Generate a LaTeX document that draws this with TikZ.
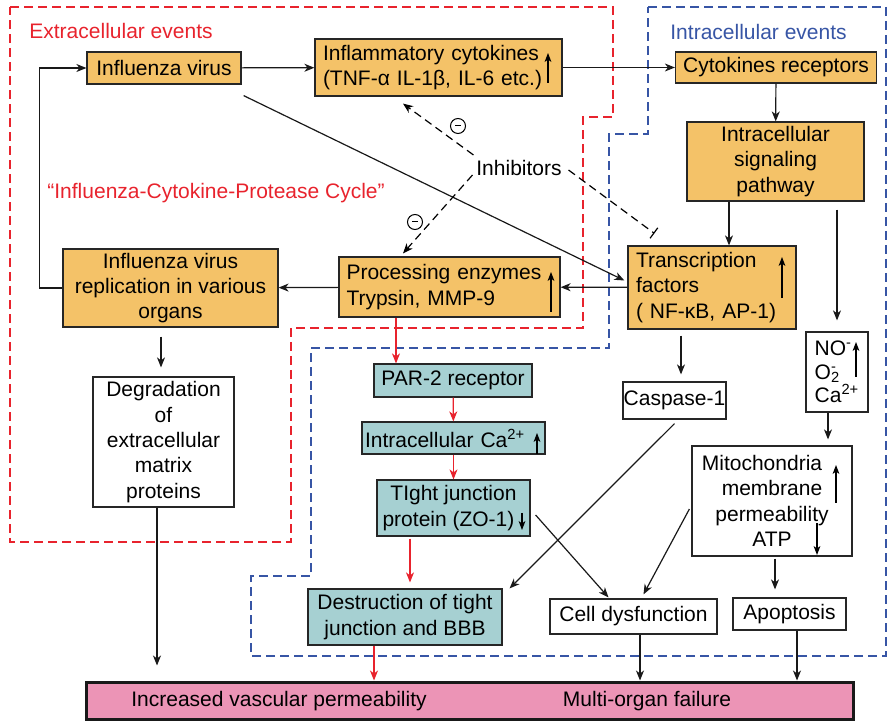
\documentclass[tikz,border=0pt]{standalone}
\usepackage{fontspec}
\setmainfont{Liberation Sans}
\usepackage{tikz}
\usetikzlibrary{arrows.meta,positioning,calc}
\definecolor{flu}{RGB}{244,194,104}
\definecolor{tjcol}{RGB}{166,208,210}
\definecolor{failcol}{RGB}{236,148,182}
\definecolor{exred}{RGB}{232,35,45}
\definecolor{inblue}{RGB}{55,85,165}
\newcommand{\boxfont}{\fontsize{10.5}{12.7}\selectfont}

\tikzset{
  cbox/.style={draw=black!85,line width=0.6pt,inner sep=0pt,font=\boxfont,align=center},
  flubox/.style={cbox,fill=flu},
  tjbox/.style={cbox,fill=tjcol},
  plainbox/.style={cbox,fill=white},
  link/.style={->,line width=0.6pt,black!90},
  redlink/.style={->,line width=0.6pt,exred},
  inhib/.style={line width=0.6pt,dash pattern=on 4pt off 2.5pt},
  level/.style={line width=0.55pt,-{Stealth[length=4.5pt,width=3.4pt,inset=1.3pt]}},
  region/.style={line width=0.6pt,dash pattern=on 4.5pt off 2.5pt},
  minus/.style={circle,draw,line width=0.5pt,inner sep=0pt,minimum size=7.5pt}
}

\begin{document}
\begin{tikzpicture}[x=0.5pt,y=-0.5pt,>={Stealth[length=5pt,width=4pt,inset=1.5pt]}]
\useasboundingbox (0,0) rectangle (889,721);

% extracellular / intracellular areas
\draw[region,exred] (10,7) -- (613,7) -- (613,117) -- (583,117) -- (583,328) -- (291,328) -- (291,542) -- (10,542) -- cycle;
\draw[region,inblue] (648,7) -- (886,7) -- (886,656) -- (251,656) -- (251,576) -- (311,576) -- (311,348) -- (609,348) -- (609,134) -- (648,134) -- cycle;
\node[exred,font=\boxfont,anchor=west,inner sep=0pt] (extitle) at (29,31) {Extracellular events};
\node[inblue,font=\boxfont,anchor=west,inner sep=0pt] (intitle) at (670,32) {Intracellular events};
\node[exred,font=\boxfont,anchor=west,inner sep=0pt] (cycle) at (47,193) {“Influenza-Cytokine-Protease Cycle”};

% cycle
\node[flubox,minimum width=77pt,minimum height=16pt] (virus) at (164,68) {Influenza virus};
\node[flubox,text width=115.5pt,inner xsep=4pt,minimum height=28.5pt,align=left] (cyt) at (438.5,67.5) {Inflammatory cytokines\\(TNF-α IL-1β, IL-6 etc.)};
\node[flubox,minimum width=100.5pt,minimum height=15.5pt] (cytrec) at (776,67.5) {Cytokines receptors};
\node[flubox,minimum width=88.5pt,minimum height=39.5pt] (sig) at (775.5,161.5) {Intracellular\\signaling\\pathway};
\node[flubox,text width=76pt,inner xsep=4pt,minimum height=41.5pt,align=left] (tf) at (712,287.5) {Transcription\\factors\\( NF-κB, AP-1)};
\node[flubox,text width=103pt,inner xsep=3.75pt,minimum height=30pt,align=left] (proc) at (449.5,287) {Processing enzymes\\Trypsin, MMP-9};
\node[flubox,minimum width=107.5pt,minimum height=39pt] (rep) at (170.5,288) {Influenza virus\\replication in various\\organs};
\node[plainbox,minimum width=70.5pt,minimum height=65pt] (deg) at (163.5,442) {Degradation\\of\\extracellular\\matrix\\proteins};

% barrier branch
\node[tjbox,minimum width=79pt,minimum height=16.5pt] (par) at (453,380.5) {PAR-2 receptor};
\node[tjbox,text width=88.5pt,inner xsep=1.5pt,minimum height=16pt,align=left] (ca) at (453.5,438) {Intracellular Ca\textsuperscript{2+}};
\node[tjbox,minimum width=76.5pt,minimum height=28pt] (tjp) at (453.5,508) {TIght junction\\protein (ZO-1)\hspace*{5pt}};
\node[tjbox,minimum width=97pt,minimum height=28pt] (des) at (405,617) {Destruction of tight\\junction and BBB};

% cell branch
\node[plainbox,minimum width=51.5pt,minimum height=18.5pt] (casp) at (674.5,400.5) {Caspase-1};
\node[plainbox,minimum width=31pt,minimum height=40pt,align=left,font=\fontsize{10.5}{11.8}\selectfont] (no) at (837,372) {NO\textsuperscript{-}\\O\rlap{\textsuperscript{-}}\textsubscript{2}\\Ca\textsuperscript{2+}};
\node[plainbox,minimum width=80pt,minimum height=55pt] (mito) at (772,501) {Mitochondria\hspace*{10pt}\\membrane\hspace*{10pt}\\permeability\hspace*{10pt}\\ATP};
\node[plainbox,minimum width=83.5pt,minimum height=17.5pt] (cell) at (633.5,616.5) {Cell dysfunction};
\node[plainbox,minimum width=56.5pt,minimum height=16pt] (apop) at (789.5,614) {Apoptosis};

% outcome
\node[draw=black!90,line width=1.5pt,fill=failcol,minimum width=383.5pt,minimum height=18.5pt,inner sep=0pt] (fail) at (469.5,700.5) {};
\node[font=\boxfont] (ivp) at (279,701) {Increased vascular permeability};
\node[font=\boxfont] (mof) at (647,701) {Multi-organ failure};

\node[font=\boxfont,inner sep=1pt] (inh) at (519,168) {Inhibitors};
\node[minus] (m1) at (458,126) {\rule{2.8pt}{0.5pt}};
\node[minus] (m2) at (415,222) {\rule{2.8pt}{0.5pt}};

% up / down marks
\draw[level] ([shift={(109.5,15.5)}]cyt.center) -- ++(0,-30);
\draw[level] ([shift={(101.5,25)}]proc.center) -- ++(0,-40);
\draw[level] ([shift={(70,10.5)}]tf.center) -- ++(0,-41);
\draw[level] ([shift={(83.5,16)}]ca.center) -- ++(0,-21);
\draw[level] ([shift={(68.5,5)}]tjp.center) -- ++(0,17);
\draw[level] ([shift={(19,5)}]no.center) -- ++(0,-35);
\draw[level] ([shift={(64,2)}]mito.center) -- ++(0,-38);
\draw[level] ([shift={(45,22)}]mito.center) -- ++(0,32);

% connectors
\draw[link] (virus) -- (cyt);
\draw[link] (cyt) -- (cytrec);
\draw[link] (cytrec) -- (sig);
\draw[link] ([xshift=-23.25pt]sig.south) -- ([xshift=-23.25pt]sig.south |- tf.north);
\draw[link,shorten <=4pt,shorten >=5.5pt] (no.north |- sig.south) -- (no.north);
\draw[link] ([shift={(2,11)}]virus.south east) -- ([shift={(-3,-7)}]tf.west);
\draw[link] (tf) -- (proc);
\draw[link] (proc) -- (rep);
\draw[link] (rep.west) -- ++(-23,0) |- (virus.west);
\draw[link,shorten <=4.5pt,shorten >=4.5pt] ([xshift=-4.75pt]rep.south) -- ([xshift=-4.75pt]rep.south |- deg.north);
\draw[link,shorten >=7.5pt] ([xshift=-3.25pt]deg.south) -- ([xshift=-3.25pt]deg.south |- fail.north);
\draw[redlink] ([xshift=-26.75pt]proc.south) -- ([xshift=-26.75pt]proc.south |- par.north);
\draw[redlink] (par) -- (ca);
\draw[redlink] (ca) -- (tjp);
\draw[redlink,shorten <=1pt,shorten >=3pt] ([xshift=-21.75pt]tjp.south) -- ([xshift=-21.75pt]tjp.south |- des.north);
\draw[redlink] ([xshift=-15.5pt]des.south) -- ([xshift=-15.5pt]des.south |- fail.north);
\draw[link] ([shift={(5,7)}]tjp.east) -- ([shift={(-25,-1)}]cell.north);
\draw[link] ([shift={(0,4)}]casp.south) -- ([shift={(7,0)}]des.north east);
\draw[link] ([shift={(-2,8)}]mito.west) -- ([shift={(10,-4)}]cell.north);
\draw[link,shorten >=3pt] ([xshift=-4.5pt]no.south) -- ([xshift=-4.5pt]no.south |- mito.north);
\draw[link,shorten <=1pt,shorten >=4pt] ([xshift=1.5pt]mito.south) -- ([xshift=1.5pt]mito.south |- apop.north);
\draw[link] ([xshift=3.25pt]cell.south) -- ([xshift=3.25pt]cell.south |- fail.north);
\draw[link] ([xshift=3.75pt]apop.south) -- ([xshift=3.75pt]apop.south |- fail.north);
\draw[link,shorten <=3pt,shorten >=3.5pt] ([xshift=-15.5pt]tf.south) -- ([xshift=-15.5pt]tf.south |- casp.north);

% inhibitors
\draw[inhib,->] ([shift={(-0.5,-13)}]inh.west) -- ([shift={(-35.5,7)}]cyt.south);
\draw[inhib,->] ([shift={(-1.5,7)}]inh.west) -- ([shift={(-46.5,-3)}]proc.north);
\draw[inhib,-{Bar[width=6.5pt]}] ([shift={(4.5,2)}]inh.east) -- ([shift={(27,-12)}]tf.north west);
\end{tikzpicture}
\end{document}
